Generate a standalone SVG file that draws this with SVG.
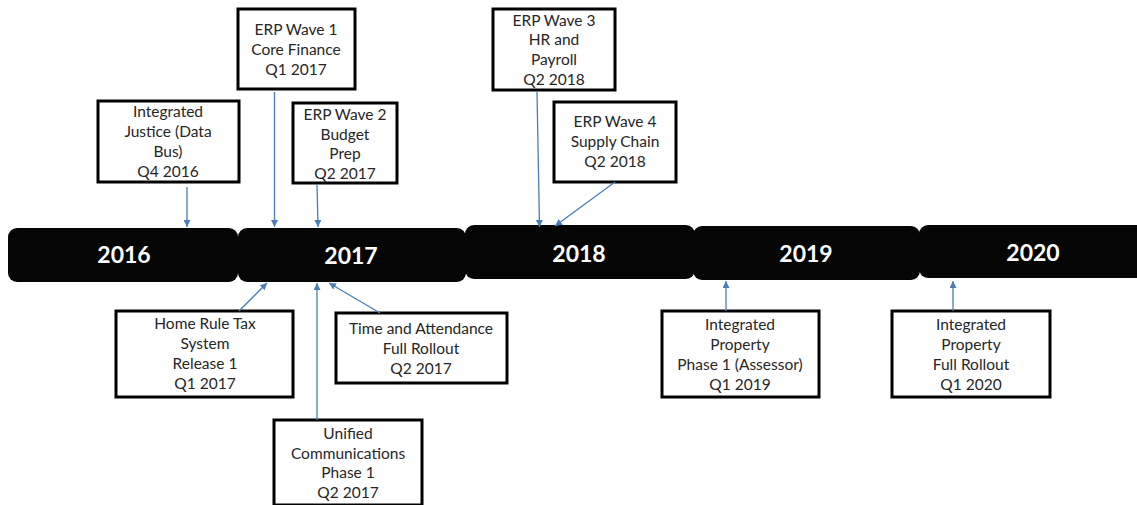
<svg xmlns="http://www.w3.org/2000/svg" width="1137" height="505" viewBox="0 0 1137 505">
<defs>
<style>
.bar{fill:#050505;}
.yr{font-family:Lato,"Liberation Sans",sans-serif;font-weight:bold;font-size:23px;fill:#fff;text-anchor:middle;}
.box{fill:#fff;stroke:#000;stroke-width:3;}
.t{font-family:Lato,"Liberation Sans",sans-serif;font-size:15.5px;fill:#262626;text-anchor:middle;}
.c{stroke:#4a7ebb;stroke-width:1.3;fill:none;marker-end:url(#ah);}
</style>
<marker id="ah" viewBox="0 0 10 10" refX="10" refY="5" markerWidth="7" markerHeight="7" markerUnits="userSpaceOnUse" orient="auto">
<path d="M0,0 L10,5 L0,10 z" fill="#4a7ebb"/>
</marker>
</defs>
<g id="y2016"><rect class="bar" x="8" y="228" width="230" height="54" rx="9"/><text class="yr" x="124" y="263">2016</text></g>
<g id="y2017"><rect class="bar" x="238" y="228" width="228" height="54" rx="9"/><text class="yr" x="351" y="264">2017</text></g>
<g id="y2018"><rect class="bar" x="465" y="225" width="230" height="54" rx="9"/><text class="yr" x="579" y="262">2018</text></g>
<g id="y2019"><rect class="bar" x="693" y="226" width="227" height="54" rx="9"/><text class="yr" x="806" y="262">2019</text></g>
<g id="y2020"><rect class="bar" x="919" y="225" width="230" height="53" rx="9"/><text class="yr" x="1033" y="261">2020</text></g>

<g id="justice"><rect class="box" x="98" y="101" width="141" height="81"/>
<text class="t"><tspan x="168" y="117">Integrated</tspan><tspan x="168" y="137">Justice (Data</tspan><tspan x="168" y="157">Bus)</tspan><tspan x="168" y="177">Q4 2016</tspan></text></g>
<g id="erp1"><rect class="box" x="238" y="9" width="117" height="80"/>
<text class="t"><tspan x="296" y="35">ERP Wave 1</tspan><tspan x="296" y="55">Core Finance</tspan><tspan x="296" y="75">Q1 2017</tspan></text></g>
<g id="erp2"><rect class="box" x="293" y="103" width="104" height="80"/>
<text class="t"><tspan x="345" y="120">ERP Wave 2</tspan><tspan x="345" y="140">Budget</tspan><tspan x="345" y="159">Prep</tspan><tspan x="345" y="179">Q2 2017</tspan></text></g>
<g id="erp3"><rect class="box" x="493" y="9" width="122" height="81"/>
<text class="t"><tspan x="554" y="26">ERP Wave 3</tspan><tspan x="554" y="45">HR and</tspan><tspan x="554" y="65">Payroll</tspan><tspan x="554" y="85">Q2 2018</tspan></text></g>
<g id="erp4"><rect class="box" x="554" y="102" width="122" height="80"/>
<text class="t"><tspan x="615" y="127">ERP Wave 4</tspan><tspan x="615" y="147">Supply Chain</tspan><tspan x="615" y="167">Q2 2018</tspan></text></g>
<g id="homerule"><rect class="box" x="116" y="311" width="177" height="86"/>
<text class="t"><tspan x="205" y="329">Home Rule Tax</tspan><tspan x="205" y="349">System</tspan><tspan x="205" y="369">Release 1</tspan><tspan x="205" y="389">Q1 2017</tspan></text></g>
<g id="timeatt"><rect class="box" x="336" y="313" width="171" height="70"/>
<text class="t"><tspan x="421" y="334">Time and Attendance</tspan><tspan x="421" y="354">Full Rollout</tspan><tspan x="421" y="374">Q2 2017</tspan></text></g>
<g id="unified"><rect class="box" x="274" y="420" width="148" height="85"/>
<text class="t"><tspan x="348" y="439">Unified</tspan><tspan x="348" y="459">Communications</tspan><tspan x="348" y="478">Phase 1</tspan><tspan x="348" y="498">Q2 2017</tspan></text></g>
<g id="prop1"><rect class="box" x="662" y="311" width="157" height="86"/>
<text class="t"><tspan x="740" y="330">Integrated</tspan><tspan x="740" y="350">Property</tspan><tspan x="740" y="370">Phase 1 (Assessor)</tspan><tspan x="740" y="390">Q1 2019</tspan></text></g>
<g id="prop2"><rect class="box" x="892" y="311" width="158" height="86"/>
<text class="t"><tspan x="971" y="330">Integrated</tspan><tspan x="971" y="350">Property</tspan><tspan x="971" y="370">Full Rollout</tspan><tspan x="971" y="390">Q1 2020</tspan></text></g>

<g id="connectors">
<line class="c" x1="187" y1="187" x2="187" y2="227"/>
<line class="c" x1="274.5" y1="92" x2="274.5" y2="227"/>
<line class="c" x1="317" y1="184" x2="318" y2="227"/>
<line class="c" x1="537" y1="92" x2="539.5" y2="227"/>
<line class="c" x1="615" y1="182" x2="555" y2="226"/>
<line class="c" x1="239" y1="311" x2="267" y2="283"/>
<line class="c" x1="317" y1="420" x2="317" y2="283"/>
<line class="c" x1="380" y1="313" x2="329" y2="283"/>
<line class="c" x1="726" y1="311" x2="726" y2="281"/>
<line class="c" x1="953" y1="311" x2="953" y2="281"/>
</g>
</svg>
